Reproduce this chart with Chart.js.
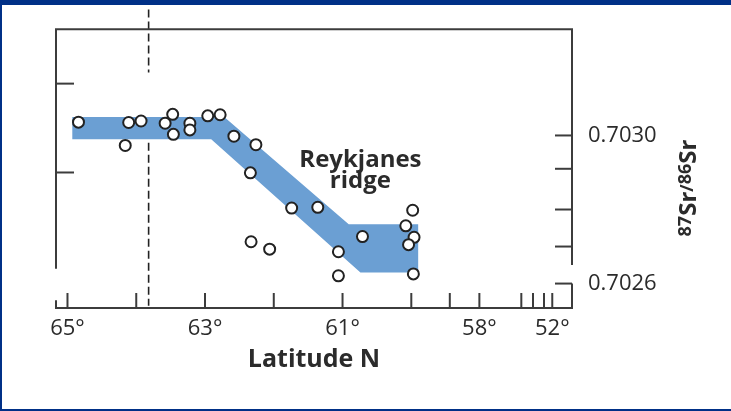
<!DOCTYPE html>
<html>
<head>
<meta charset="utf-8">
<script src="https://cdn.jsdelivr.net/npm/chart.js@4"></script>
<style>
    html, body { margin: 0; padding: 0; background: #fff; }
    canvas { display: block; }
</style>
</head>
<body>
<canvas id="grafico" width="731" height="411"></canvas>
<script>
// amostras: latitude e razao 87Sr/86Sr
const latitudes = [64.84, 64.16, 64.11, 63.93, 63.58, 63.47, 63.46, 63.22, 63.22, 62.96, 62.78, 62.58, 62.26,
    62.34, 61.74, 61.36, 62.33, 62.06, 61.06, 61.06, 60.71, 59.98, 60.08, 59.96, 60.04, 59.97];
const razoes = [0.703036, 0.702973, 0.703035, 0.703039, 0.703033, 0.703057, 0.703003, 0.703033, 0.703015, 0.703053,
    0.703056, 0.702998, 0.702975, 0.702899, 0.702804, 0.702806, 0.702713, 0.702693, 0.702686, 0.702621,
    0.702727, 0.702798, 0.702756, 0.702725, 0.702705, 0.702626];

// faixa azul (poligono fechado)
const faixaLat = [64.93, 62.72, 60.91, 59.90, 59.90, 60.74, 62.91, 64.93, 64.93];
const faixaSr = [0.70305, 0.70305, 0.70276, 0.70276, 0.70263, 0.70263, 0.70299, 0.70299, 0.70305];

// linha tracejada
const tracejadoLat = 63.82;
const tracejadoSr = [0.70334, 0.70317, null, 0.70298, 0.70254];

// eixos
const ticksX = [65, 64, 63, 62, 61, 60, 59.44, 59.01, 58.40, 58.23, 58.07, 57.95];
const rotulosX = ["65°", "", "63°", "", "61°", "", "", "58°", "", "", "", "52°"];
const ticksDireita = [0.7030, 0.70291, 0.7028, 0.7027, 0.7026];
const rotulosDireita = [0.7030, 0.7026];
const ticksEsquerda = [0.70314, 0.70290];
const quebraEsquerda = [0.70264, 0.702555];
const quebraDireita = [0.70265, 0.70260];

const corTexto = "#2b2b2b";
const corEixo = "#3c3c3c";
const azulEscuro = "#003087";

const moldura = {
    id: "moldura",
    beforeDraw(chart) {
        const ctx = chart.ctx;
        ctx.save();
        ctx.fillStyle = "#fff";
        ctx.fillRect(0, 0, chart.width, chart.height);
        ctx.restore();
    },
    afterDraw(chart) {
        const ctx = chart.ctx;
        const a = chart.chartArea;
        const x = chart.scales.x;
        const y = chart.scales.y;

        const linha = (x1, y1, x2, y2) => {
            ctx.beginPath();
            ctx.moveTo(x1, y1);
            ctx.lineTo(x2, y2);
            ctx.stroke();
        };

        ctx.save();
        ctx.strokeStyle = corEixo;
        ctx.lineWidth = 2;

        linha(a.left - 1, a.top, a.right + 1, a.top);
        linha(a.left - 1, a.bottom, a.right + 1, a.bottom);
        linha(a.left, a.top, a.left, y.getPixelForValue(quebraEsquerda[0]));
        linha(a.left, y.getPixelForValue(quebraEsquerda[1]), a.left, a.bottom);
        linha(a.right, a.top, a.right, y.getPixelForValue(quebraDireita[0]));
        linha(a.right, y.getPixelForValue(quebraDireita[1]), a.right, a.bottom);

        ticksX.forEach(v => {
            const px = x.getPixelForValue(v);
            linha(px, a.bottom, px, a.bottom - 15);
        });
        ticksDireita.forEach(v => {
            const py = y.getPixelForValue(v);
            linha(a.right - 17, py, a.right, py);
        });
        ticksEsquerda.forEach(v => {
            const py = y.getPixelForValue(v);
            linha(a.left, py, a.left + 18, py);
        });

        // rotulo da dorsal
        ctx.fillStyle = corTexto;
        ctx.font = "bold 24px 'Open Sans'";
        ctx.textAlign = "center";
        ctx.textBaseline = "alphabetic";
        const tx = x.getPixelForValue(60.74);
        const ty = y.getPixelForValue(0.702915);
        ctx.fillText("Reykjanes", tx, ty);
        ctx.fillText("ridge", tx, ty + 21);

        // titulo do eixo y: 87Sr/86Sr
        const partes = [
            { t: "87", f: "bold 18px 'Open Sans'", d: -5 },
            { t: "Sr", f: "bold 24px 'Open Sans'", d: 0 },
            { t: "/", f: "bold 18px 'Open Sans'", d: -3 },
            { t: "86", f: "bold 18px 'Open Sans'", d: -5 },
            { t: "Sr", f: "bold 24px 'Open Sans'", d: 0 }
        ];
        let total = 0;
        partes.forEach(p => {
            ctx.font = p.f;
            p.w = ctx.measureText(p.t).width;
            total += p.w;
        });
        ctx.translate(687, 188);
        ctx.rotate(-Math.PI / 2);
        ctx.textAlign = "left";
        let cx = -total / 2;
        partes.forEach(p => {
            ctx.font = p.f;
            ctx.fillText(p.t, cx, 9 + p.d);
            cx += p.w;
        });
        ctx.restore();

        ctx.save();
        ctx.fillStyle = azulEscuro;
        ctx.fillRect(0, 0, chart.width, 5);
        ctx.fillRect(0, 0, 2, chart.height);
        ctx.fillRect(0, chart.height - 2, chart.width, 2);
        ctx.restore();
    }
};

const pontos = latitudes.map((lat, i) => ({ x: lat, y: razoes[i] }));
const faixa = faixaLat.map((lat, i) => ({ x: lat, y: faixaSr[i] }));
const tracejado = tracejadoSr.map(v => ({ x: tracejadoLat, y: v }));

new Chart(document.getElementById("grafico"), {
    type: "scatter",
    data: {
        datasets: [
            {
                label: "amostras",
                data: pontos,
                pointRadius: 5.5,
                pointBorderWidth: 2,
                borderColor: "#222",
                backgroundColor: "#fff",
                order: 0
            },
            {
                label: "faixa",
                type: "line",
                data: faixa,
                showLine: true,
                fill: "shape",
                backgroundColor: "#6b9fd3",
                borderWidth: 0,
                pointRadius: 0,
                order: 1
            },
            {
                label: "tracejado",
                type: "line",
                data: tracejado,
                showLine: true,
                spanGaps: false,
                borderColor: "#222",
                borderWidth: 1.6,
                borderDash: [8, 4],
                pointRadius: 0,
                clip: false,
                order: 2
            }
        ]
    },
    options: {
        responsive: false,
        animation: false,
        devicePixelRatio: 1,
        layout: { padding: { top: 25, left: 56, right: 0, bottom: 0 } },
        plugins: {
            legend: { display: false },
            tooltip: { enabled: false }
        },
        scales: {
            x: {
                type: "linear",
                position: "bottom",
                reverse: true,
                min: 57.663,
                max: 65.167,
                grid: { display: false, drawTicks: false },
                border: { display: false },
                afterBuildTicks: s => { s.ticks = ticksX.map(v => ({ value: v })); },
                afterFit: s => { s.height = 103; },
                ticks: {
                    autoSkip: false,
                    maxRotation: 0,
                    padding: 8,
                    color: corTexto,
                    font: { family: "'Open Sans'", size: 22 },
                    callback: (v, i) => rotulosX[i]
                },
                title: {
                    display: true,
                    text: "Latitude N",
                    color: corTexto,
                    font: { family: "'Open Sans'", size: 25, weight: "bold" },
                    padding: { top: 0, bottom: 36 }
                }
            },
            y: {
                type: "linear",
                position: "right",
                min: 0.702534,
                max: 0.703287,
                grid: { display: false, drawTicks: false },
                border: { display: false },
                afterBuildTicks: s => { s.ticks = rotulosDireita.map(v => ({ value: v })); },
                afterFit: s => { s.width = 159; },
                ticks: {
                    padding: 16,
                    color: corTexto,
                    font: { family: "'Open Sans'", size: 22 },
                    callback: v => v.toFixed(4)
                }
            }
        }
    },
    plugins: [moldura]
});
</script>
</body>
</html>
